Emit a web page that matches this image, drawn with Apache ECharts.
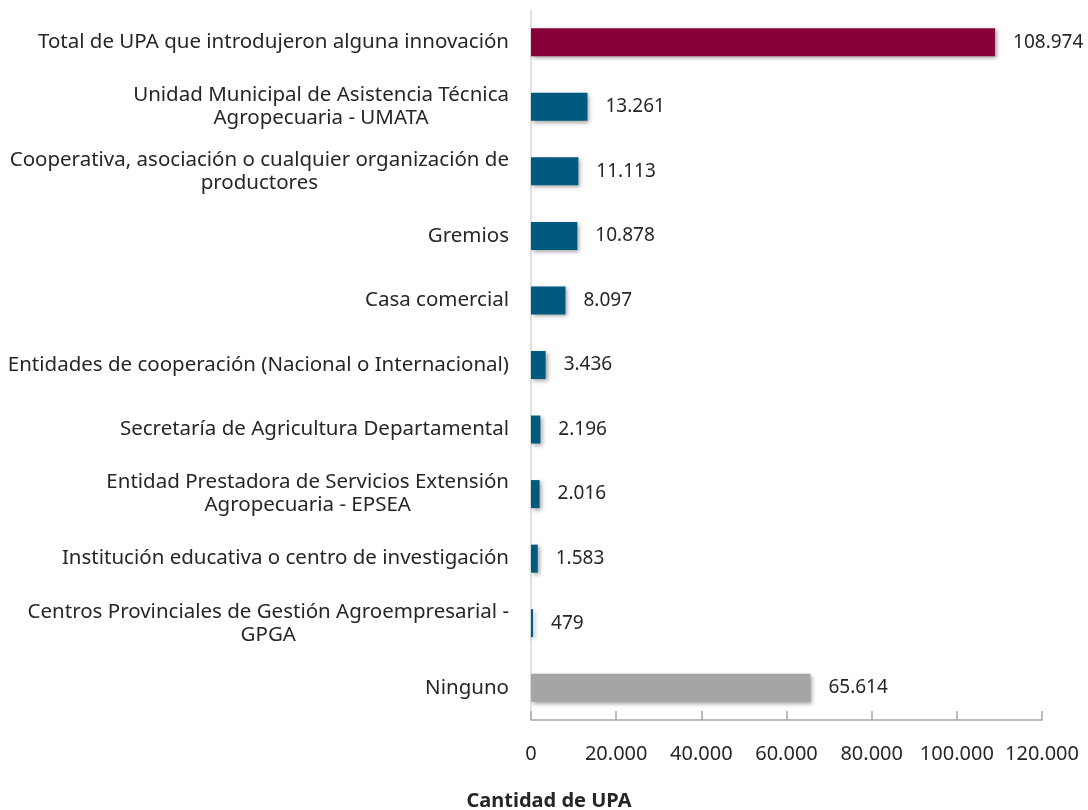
<!DOCTYPE html>
<html>
<head>
<meta charset="utf-8">
<script src="https://cdn.jsdelivr.net/npm/echarts@6/dist/echarts.min.js"></script>
<style>
  html, body { margin: 0; padding: 0; background: #fff; }
  #main { width: 1088px; height: 810px; }
</style>
</head>
<body>
<div id="main"></div>
<script>
var categories = [
    'Total de UPA que introdujeron alguna innovación',
    'Unidad Municipal de Asistencia Técnica\nAgropecuaria - UMATA',
    'Cooperativa, asociación o cualquier organización de\nproductores',
    'Gremios',
    'Casa comercial',
    'Entidades de cooperación (Nacional o Internacional)',
    'Secretaría de Agricultura Departamental',
    'Entidad Prestadora de Servicios Extensión\nAgropecuaria - EPSEA',
    'Institución educativa o centro de investigación',
    'Centros Provinciales de Gestión Agroempresarial -\nGPGA',
    'Ninguno'
];
var values = [108974, 13261, 11113, 10878, 8097, 3436, 2196, 2016, 1583, 479, 65614];
var axisTicks = [0, 20000, 40000, 60000, 80000, 100000, 120000];

var FONT = 'Noto Sans';
var TXT = '#262626';

// thousands with a dot, like the original
function fmt(v) {
    return String(v).replace(/\B(?=(\d{3})+(?!\d))/g, '.');
}

function barColor(i) {
    if (i == 0) return '#870037';
    if (i == values.length - 1) return '#a5a5a5';
    return '#005a7d';
}

var myChart = echarts.init(document.getElementById('main'));

var option = {
    animation: false,
    grid: { left: 531, right: 46, top: 10, bottom: 90, containLabel: false },
    xAxis: {
        type: 'value',
        min: axisTicks[0],
        max: axisTicks[axisTicks.length - 1],
        interval: axisTicks[1] - axisTicks[0],
        splitLine: { show: false },
        axisLine: { show: true, lineStyle: { color: '#a6a6a6', width: 1.5 } },
        axisTick: { show: true, inside: true, length: 9, lineStyle: { color: '#a6a6a6', width: 1.5 } },
        axisLabel: {
            margin: 24,
            color: TXT,
            fontFamily: FONT,
            fontSize: 20,
            formatter: function (v) { return fmt(v); }
        }
    },
    yAxis: {
        type: 'category',
        inverse: true,
        data: categories,
        axisTick: { show: false },
        axisLine: { show: true, lineStyle: { color: '#d9d9d9', width: 1.5 } },
        axisLabel: {
            margin: 22,
            align: 'right',
            color: TXT,
            fontFamily: FONT,
            fontSize: 20.5,
            lineHeight: 23,
            formatter: function (v) {
                return v.split('\n').map(function (s) { return '{c|' + s + '}'; }).join('\n');
            },
            rich: {
                c: { align: 'center', color: TXT, fontFamily: FONT, fontSize: 20.5, lineHeight: 23 }
            }
        }
    },
    graphic: [{
        type: 'text',
        x: 549,
        y: 801,
        style: {
            text: 'Cantidad de UPA',
            fill: TXT,
            font: 'bold 20px "' + FONT + '"',
            align: 'center',
            verticalAlign: 'middle'
        }
    }],
    series: [{
        type: 'bar',
        data: values,
        barWidth: 28,
        itemStyle: {
            color: function (p) { return barColor(p.dataIndex); },
            shadowColor: 'rgba(0,0,0,0.35)',
            shadowBlur: 4,
            shadowOffsetX: 2,
            shadowOffsetY: 2
        },
        label: {
            show: true,
            position: 'right',
            distance: 18,
            color: TXT,
            fontFamily: FONT,
            fontSize: 19,
            formatter: function (p) { return fmt(p.value); }
        }
    }]
};

myChart.setOption(option);
window.onresize = myChart.resize;
</script>
</body>
</html>
